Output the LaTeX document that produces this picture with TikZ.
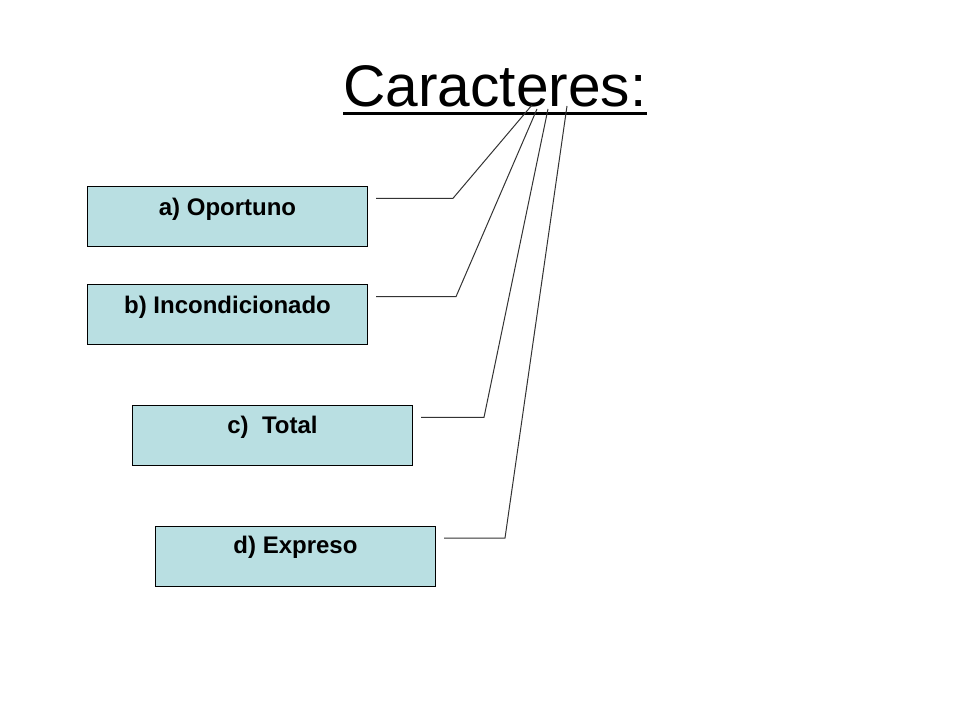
\documentclass[tikz,border=0pt]{standalone}
\usepackage{fontspec}
\setmainfont{Liberation Sans}
\usepackage{xcolor}
\usepackage{tikz}
\usetikzlibrary{positioning}
\definecolor{boxfill}{HTML}{B9DFE2}
\definecolor{ink}{HTML}{000000}
\definecolor{wire}{HTML}{333333}
\tikzset{
  box/.style={draw=ink, fill=boxfill, line width=0.8pt, minimum width=210pt, minimum height=45pt, inner sep=0pt},
  lbl/.style={text=ink, font=\fontsize{18}{22}\selectfont\bfseries, inner sep=0pt},
  ttl/.style={text=ink, font=\fontsize{44}{53}\selectfont, inner sep=0pt},
  uline/.style={draw=ink, line width=2.5pt},
  wline/.style={draw=wire, line width=0.75pt}
}
\begin{document}
\begin{tikzpicture}[x=0.75pt, y=-0.75pt]
  \useasboundingbox (0,0) rectangle (960,720);

  \node[ttl, anchor=base] (title) at (495,106.7) {Caracteres:};
  \draw[uline] ([yshift=-5pt]title.base west) -- ([yshift=-5pt]title.base east);

  \node[box] (a) at (227.5,216.3) {};
  \node[box] (b) at (227.5,314.5) {};
  \node[box] (c) at (272.5,435.9) {};
  \node[box] (d) at (295.5,556.7) {};

  \node[lbl, below=9pt of a.north] (la) {a) Oportuno};
  \node[lbl, below=9pt of b.north] (lb) {b) Incondicionado};
  \node[lbl, below=7.5pt of c.north] (lc) {c)\ \ Total};
  \node[lbl, below=7.5pt of d.north] (ld) {d) Expreso};

  \coordinate (ta) at (532,105);
  \coordinate (tb) at (537,109);
  \coordinate (tc) at (548,109);
  \coordinate (td) at (567,106);

  \coordinate (ka) at (453,198.3);
  \coordinate (kb) at (456,296.7);
  \coordinate (kc) at (484,417.3);
  \coordinate (kd) at (505,538);

  \draw[wline] ([xshift=6pt]a.east |- ka) -- (ka) -- (ta);
  \draw[wline] ([xshift=6pt]b.east |- kb) -- (kb) -- (tb);
  \draw[wline] ([xshift=6pt]c.east |- kc) -- (kc) -- (tc);
  \draw[wline] ([xshift=6pt]d.east |- kd) -- (kd) -- (td);
\end{tikzpicture}
\end{document}
